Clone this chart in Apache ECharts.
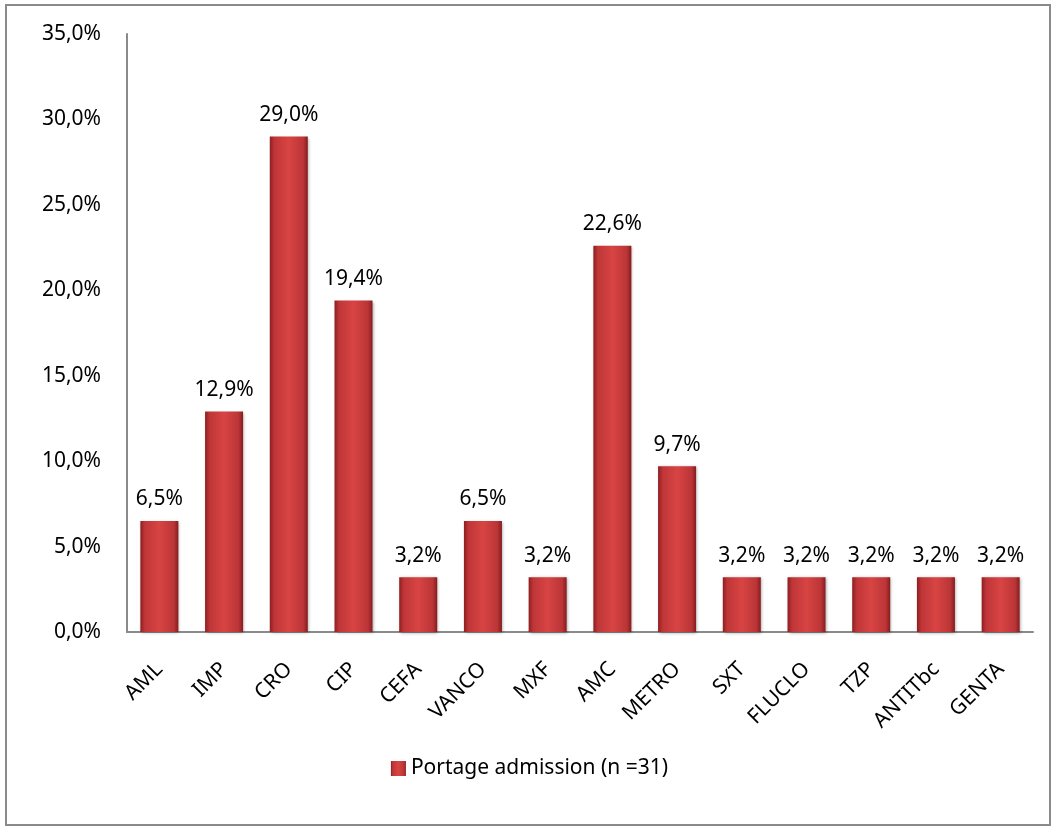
<!DOCTYPE html>
<html>
<head>
<meta charset="utf-8">
<script src="https://cdn.jsdelivr.net/npm/echarts@6/dist/echarts.min.js"></script>
<style>
  html, body { margin: 0; padding: 0; background: #fff; }
  #frame { position: absolute; left: 5px; top: 4px; width: 1046px; height: 822px; border: 2px solid #8a8a8a; box-sizing: border-box; }
  #chart { position: absolute; left: 0; top: 0; width: 1059px; height: 834px; }
</style>
</head>
<body>
<div id="frame"></div>
<div id="chart"></div>
<script>
// Antibiotic exposure at admission, share of patients (%)
const categories = ['AML', 'IMP', 'CRO', 'CIP', 'CEFA', 'VANCO', 'MXF', 'AMC', 'METRO', 'SXT', 'FLUCLO', 'TZP', 'ANTITbc', 'GENTA'];
const portageAdmission = [6.5, 12.9, 29.0, 19.4, 3.2, 6.5, 3.2, 22.6, 9.7, 3.2, 3.2, 3.2, 3.2, 3.2];
const seriesName = 'Portage admission (n =31)';

const fmt = v => v.toFixed(1).replace('.', ',') + '%';
const FONT = 'Noto Sans';
const FS = 21;

const barFill = new echarts.graphic.LinearGradient(0, 0, 1, 0, [
  { offset: 0, color: '#8e1e1f' },
  { offset: 0.12, color: '#bf3638' },
  { offset: 0.5, color: '#d84443' },
  { offset: 0.88, color: '#bb3537' },
  { offset: 1, color: '#861c1d' }
]);

const chart = echarts.init(document.getElementById('chart'));
chart.setOption({
  animation: false,
  textStyle: { fontFamily: FONT },
  grid: { left: 127, right: 26, top: 34, bottom: 202 },
  legend: {
    bottom: 50,
    left: 'center',
    itemWidth: 15,
    itemHeight: 15,
    icon: 'rect',
    textStyle: { fontFamily: FONT, fontSize: FS, color: '#000' },
    data: [seriesName]
  },
  xAxis: {
    type: 'category',
    data: categories,
    axisLine: { lineStyle: { color: '#8a8a8a', width: 2 } },
    axisTick: { show: false },
    axisLabel: { rotate: 45, fontSize: FS, color: '#000', fontFamily: FONT, margin: 34, interval: 0 }
  },
  yAxis: {
    type: 'value',
    min: 0,
    max: 35,
    interval: 5,
    splitLine: { show: false },
    axisLine: { show: true, lineStyle: { color: '#8a8a8a', width: 2 } },
    axisTick: { show: false },
    axisLabel: { formatter: v => fmt(v), fontSize: FS, color: '#000', fontFamily: FONT, margin: 26 }
  },
  series: [{
    name: seriesName,
    type: 'bar',
    data: portageAdmission,
    barWidth: 38,
    itemStyle: {
      color: barFill,
      shadowColor: 'rgba(0,0,0,0.35)',
      shadowBlur: 3,
      shadowOffsetX: 1,
      shadowOffsetY: 1
    },
    label: {
      show: true,
      position: 'top',
      distance: 11,
      formatter: p => fmt(p.value),
      fontSize: FS,
      color: '#000',
      fontFamily: FONT
    }
  }]
});
</script>
</body>
</html>
